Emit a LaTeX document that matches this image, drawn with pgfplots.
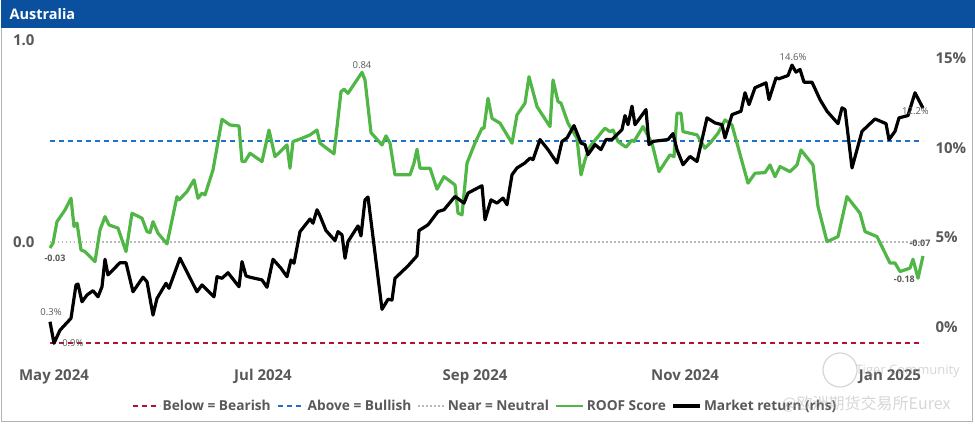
\documentclass[border=0pt]{standalone}
\usepackage{pgfplots}
\pgfplotsset{compat=1.18}
\usepackage{fontspec}
\setmainfont{Open Sans}
\newfontfamily\cjk{Noto Sans CJK SC}

\definecolor{titleblue}{RGB}{10,80,158}
\definecolor{txtgray}{RGB}{89,89,89}
\definecolor{roofgreen}{RGB}{80,182,70}
\definecolor{bearred}{RGB}{180,16,50}
\definecolor{bullblue}{RGB}{30,112,200}
\definecolor{neutgray}{RGB}{185,185,185}

% ROOF score (lhs), x = position along the timeline
\pgfplotstableread{
t s
0 -0.03
3 -0.006
7 0.10
15 0.158
21 0.216
24 0.076
27 0.093
31 -0.04
35 -0.048
45 -0.098
50 0.059
55 0.125
59 0.084
68 0.068
76 -0.048
82 0.142
92 0.117
97 0.051
100 0.046
103 0.10
108 0.043
117 -0.01
127 0.224
129 0.208
137 0.249
144 0.307
148 0.216
152 0.241
155 0.233
163 0.356
172 0.607
180 0.579
189 0.574
192 0.398
195 0.398
200 0.439
212 0.398
219 0.554
225 0.422
237 0.480
240 0.365
243 0.497
252 0.513
260 0.530
267 0.554
270 0.489
284 0.436
291 0.744
294 0.756
298 0.736
312 0.84
315 0.802
321 0.541
332 0.480
336 0.525
340 0.489
345 0.332
360 0.332
364 0.390
367 0.459
370 0.365
380 0.365
387 0.261
394 0.323
405 0.282
408 0.142
412 0.134
417 0.390
425 0.49
432 0.563
434 0.563
438 0.711
442 0.612
450 0.588
462 0.489
467 0.629
475 0.687
479 0.818
487 0.670
500 0.571
503 0.802
508 0.695
511 0.687
518 0.588
527 0.513
531 0.332
535 0.406
540 0.472
552 0.546
555 0.563
560 0.546
563 0.554
568 0.497
576 0.469
582 0.505
584 0.497
593 0.571
602 0.489
609 0.348
620 0.431
624 0.422
627 0.637
631 0.637
633 0.546
647 0.530
655 0.464
660 0.489
668 0.538
675 0.604
682 0.579
692 0.398
698 0.291
705 0.340
715 0.343
720 0.381
725 0.323
730 0.373
740 0.348
747 0.381
751 0.455
763 0.381
768 0.175
777 0.001
788 0.026
797 0.224
810 0.142
815 0.051
827 0.026
840 -0.105
845 -0.105
850 -0.147
860 -0.130
863 -0.086
868 -0.18
873 -0.07
}\roof

% Market return in % (rhs)
\pgfplotstableread{
t r
0 0.3
4 -0.9
10 -0.17
21 0.49
26 2.35
28 2.40
32 1.41
37 1.79
43 2.03
48 1.69
52 2.25
55 3.78
58 2.91
70 3.59
76 3.59
83 1.97
93 2.78
97 2.53
103 0.67
107 1.60
116 2.44
119 2.16
130 3.84
147 1.97
152 2.35
164 1.69
167 2.81
172 2.72
178 3.03
189 2.25
192 3.65
196 2.85
200 2.78
212 2.63
217 2.22
223 3.78
231 3.28
237 2.81
241 3.74
244 3.56
250 5.32
260 6.02
263 5.79
267 6.54
270 6.20
276 5.38
285 4.82
288 5.32
292 5.14
295 3.84
298 4.77
308 5.64
311 5.08
315 7.09
318 7.25
332 0.99
338 1.55
342 1.51
345 2.72
358 3.41
367 3.97
369 5.38
378 5.70
388 6.44
394 6.54
405 7.28
414 6.91
418 7.47
432 7.88
435 5.98
441 7.09
447 6.91
453 7.19
457 6.82
462 8.49
467 8.87
475 9.15
480 9.42
483 9.33
490 10.45
498 9.89
507 9.15
512 10.35
517 10.54
524 11.23
531 10.26
535 10.17
538 9.61
545 10.17
551 9.89
556 10.45
562 10.45
572 11.01
575 11.79
578 11.28
582 12.31
585 11.28
596 12.12
599 10.17
603 10.35
618 10.45
623 10.78
627 9.89
633 9.05
640 9.51
647 9.23
657 11.66
665 11.38
672 11.28
675 10.54
682 11.84
691 12.03
695 13.06
699 12.40
705 13.34
716 13.61
719 12.68
726 13.89
729 13.84
738 14.02
742 14.6
746 14.21
750 14.36
754 13.65
762 13.65
770 12.68
777 12.03
788 11.34
792 12.22
795 12.12
802 8.87
812 10.91
825 11.60
836 11.34
839 10.45
845 10.91
849 11.66
858 11.79
865 13.06
873 12.2
}\market

\pgfplotsset{
  common/.style={
    at={(40pt,62pt)}, anchor=south west, scale only axis,
    width=890pt, height=323pt,
    xmin=-10, xmax=880,
    axis line style={draw=none}, tick style={draw=none},
    ticklabel style={text=txtgray, font=\bfseries\fontsize{15}{17}\selectfont},
    clip=false,
  },
}
\tikzset{lab/.style={font=\fontsize{9.5}{11}\selectfont, text=txtgray, inner sep=1pt}}

\begin{document}
\begin{tikzpicture}[x=1pt,y=1pt]
\path[use as bounding box] (0,0) rectangle (975,425);
\fill[white] (0,0) rectangle (975,425);
\draw[black!30, line width=1pt] (1.5,3.5) rectangle (972.5,397);
\fill[titleblue] (0.5,397) rectangle (974.5,425);
\node[anchor=west, text=white, font=\bfseries\fontsize{14.5}{16}\selectfont] at (6,411) {Australia};

\begin{axis}[common,
  ymin=-0.6, ymax=1.0,
  xtick={4,213,425,635,840},
  xticklabels={May 2024,Jul 2024,Sep 2024,Nov 2024,Jan 2025},
  ytick={0,1}, yticklabels={0.0,1.0},
  yticklabel style={xshift=-2pt},
  xticklabel style={yshift=-3pt},
]
\addplot[bearred, line width=2pt, dash pattern=on 5pt off 4pt] coordinates {(0,-0.5) (873,-0.5)};
\addplot[bullblue, line width=2pt, dash pattern=on 5pt off 4pt] coordinates {(0,0.5) (873,0.5)};
\addplot[neutgray, line width=1.3pt, dash pattern=on 1.5pt off 2.5pt] coordinates {(0,0) (873,0)};
\addplot[roofgreen, line width=3.2pt, line join=round] table[x=t, y=s] {\roof};
\node[lab, anchor=south] at (axis cs:312,0.85) {0.84};
\node[lab, anchor=north, font=\bfseries\fontsize{9}{11}\selectfont] at (axis cs:5,-0.06) {-0.03};
\node[lab, anchor=east, font=\bfseries\fontsize{9}{11}\selectfont] at (axis cs:866,-0.185) {-0.18};
\node[lab, anchor=south, font=\bfseries\fontsize{9}{11}\selectfont] at (axis cs:870,-0.03) {-0.07};
\end{axis}

\begin{axis}[common,
  ymin=-2, ymax=16,
  axis x line=none,
  axis y line*=right,
  ytick={0,5,10,15}, yticklabels={0\%,5\%,10\%,15\%},
  yticklabel style={xshift=2pt},
  legend style={at={(0.5,-0.133)}, anchor=center, draw=none, fill=none,
    legend columns=-1, text=txtgray,
    font=\bfseries\fontsize{13.7}{16}\selectfont,
    /tikz/every even column/.append style={column sep=4pt}},
  legend image code/.code={\draw[#1] (0pt,0pt) -- (27pt,0pt);},
]
\addlegendimage{bearred, line width=2pt, dash pattern=on 5pt off 4pt}
\addlegendentry{Below = Bearish}
\addlegendimage{bullblue, line width=2pt, dash pattern=on 5pt off 4pt}
\addlegendentry{Above = Bullish}
\addlegendimage{neutgray, line width=1.3pt, dash pattern=on 1.5pt off 2.5pt}
\addlegendentry{Near = Neutral}
\addlegendimage{roofgreen, line width=2.8pt}
\addlegendentry{ROOF Score}
\addplot[black, line width=3.2pt, line join=round] table[x=t, y=r] {\market};
\addlegendentry{Market return (rhs)}
\node[lab, anchor=south] at (axis cs:1,0.55) {0.3\%};
\node[lab, anchor=west] at (axis cs:8,-0.9) {-0.9\%};
\node[lab, anchor=south] at (axis cs:743,14.8) {14.6\%};
\node[lab, anchor=north east] at (axis cs:880,12.3) {12.2\%};
\end{axis}

% platform watermark
\begin{scope}[opacity=0.45]
\draw[black!35, line width=1.2pt] (840,55) circle (17);
\node[anchor=west, text=black!35, font=\fontsize{13}{15}\selectfont] at (852,54) {Tiger Community};
\node[anchor=west, text=black!35, font=\cjk\fontsize{16}{18}\selectfont] at (778,21) {@欧洲期货交易所Eurex};
\end{scope}
\end{tikzpicture}
\end{document}
